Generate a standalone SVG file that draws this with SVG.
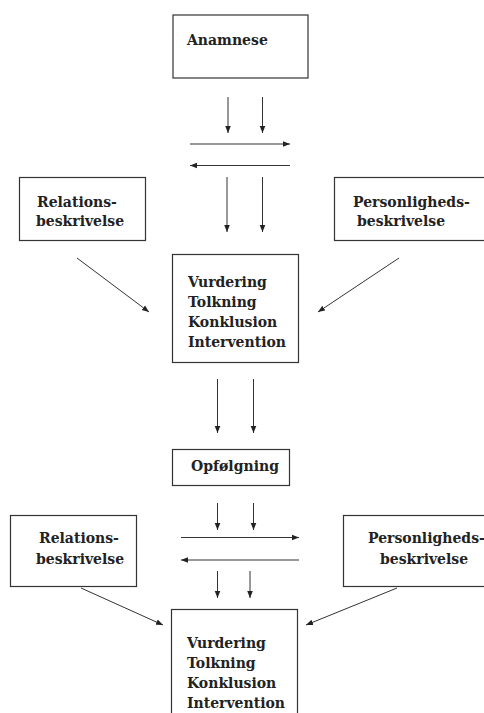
<svg xmlns="http://www.w3.org/2000/svg" width="484" height="713" viewBox="0 0 484 713">
<style>
.box{fill:#fff;stroke:#333;stroke-width:1.2}
.t{font-family:"DejaVu Serif","Liberation Serif",serif;font-weight:bold;font-size:14px;fill:#222}
.c{stroke:#333;stroke-width:1;fill:none;marker-end:url(#ah)}
</style>
<defs>
<marker id="ah" viewBox="0 0 10 10" refX="10" refY="5" markerWidth="7" markerHeight="7" markerUnits="userSpaceOnUse" orient="auto">
<path d="M0,1 L10,5 L0,9 Z" fill="#222"/>
</marker>
</defs>
<rect width="484" height="713" fill="#fff"/>
<g id="anamnese"><rect class="box" x="173" y="15" width="135" height="63"/><text class="t" x="187" y="45">Anamnese</text></g>
<g id="relations1"><rect class="box" x="19.5" y="177.5" width="126" height="63"/><text class="t" x="37" y="207">Relations-</text><text class="t" x="36" y="226">beskrivelse</text></g>
<g id="personligheds1"><rect class="box" x="334.5" y="177.5" width="152" height="63"/><text class="t" x="353" y="207">Personligheds-</text><text class="t" x="357" y="226">beskrivelse</text></g>
<g id="vurdering1"><rect class="box" x="172.5" y="254.5" width="126" height="108"/><text class="t" x="188" y="287">Vurdering</text><text class="t" x="188" y="307">Tolkning</text><text class="t" x="188" y="327">Konklusion</text><text class="t" x="188" y="347">Intervention</text></g>
<g id="opfolgning"><rect class="box" x="172.5" y="449.5" width="117" height="36"/><text class="t" x="191" y="471">Opfølgning</text></g>
<g id="relations2"><rect class="box" x="10.5" y="515.5" width="126" height="71"/><text class="t" x="39" y="543">Relations-</text><text class="t" x="36" y="564">beskrivelse</text></g>
<g id="personligheds2"><rect class="box" x="343.5" y="515.5" width="145" height="71"/><text class="t" x="368" y="543">Personligheds-</text><text class="t" x="380" y="564">beskrivelse</text></g>
<g id="vurdering2"><rect class="box" x="171.5" y="609.5" width="126" height="110"/><text class="t" x="187" y="648">Vurdering</text><text class="t" x="187" y="668">Tolkning</text><text class="t" x="187" y="688">Konklusion</text><text class="t" x="187" y="708">Intervention</text></g>
<g id="connectors">
<line class="c" x1="228" y1="97" x2="228" y2="133"/>
<line class="c" x1="262.5" y1="97" x2="262.5" y2="133"/>
<line class="c" x1="190" y1="144" x2="290" y2="144"/>
<line class="c" x1="290" y1="165.5" x2="190" y2="165.5"/>
<line class="c" x1="227" y1="177" x2="227" y2="232"/>
<line class="c" x1="262.5" y1="177" x2="262.5" y2="232"/>
<line class="c" x1="77" y1="258" x2="149" y2="312"/>
<line class="c" x1="399" y1="258" x2="318" y2="312"/>
<line class="c" x1="217.5" y1="379" x2="217.5" y2="433"/>
<line class="c" x1="253.5" y1="379" x2="253.5" y2="433"/>
<line class="c" x1="217.5" y1="503" x2="217.5" y2="530"/>
<line class="c" x1="253.5" y1="503" x2="253.5" y2="530"/>
<line class="c" x1="181" y1="537.5" x2="299" y2="537.5"/>
<line class="c" x1="299" y1="560" x2="181" y2="560"/>
<line class="c" x1="217.5" y1="571" x2="217.5" y2="598"/>
<line class="c" x1="250" y1="571" x2="250" y2="598"/>
<line class="c" x1="81" y1="588" x2="163" y2="625"/>
<line class="c" x1="397" y1="588" x2="306" y2="625"/>
</g>
</svg>
